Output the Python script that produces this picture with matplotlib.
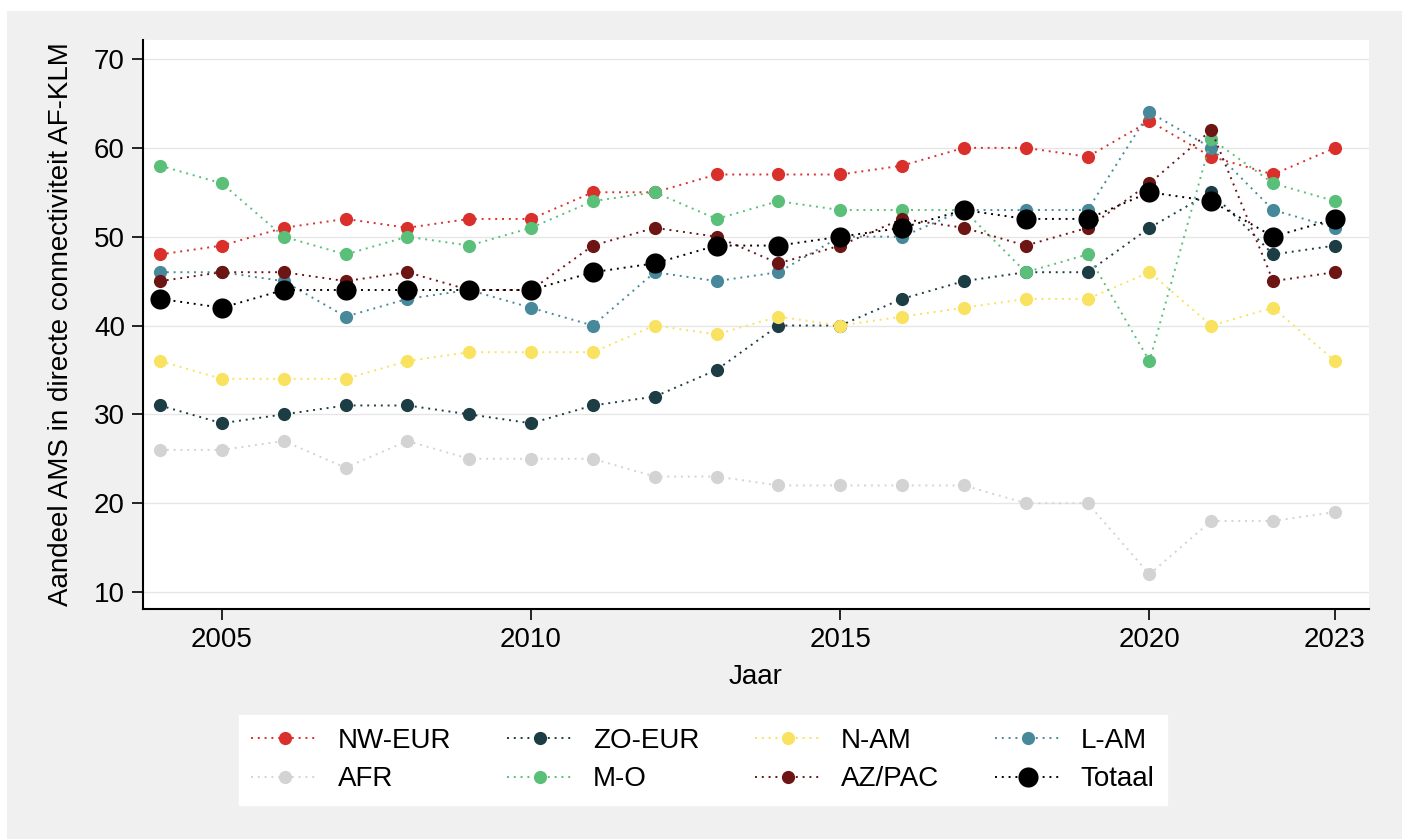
import matplotlib
matplotlib.use('Agg')
import matplotlib.pyplot as plt
from matplotlib.patches import Rectangle

plt.rcParams['font.family'] = ['Liberation Sans', 'DejaVu Sans']

jaren = list(range(2004, 2024))

nw_eur = [48, 49, 51, 52, 51, 52, 52, 55, 55, 57, 57, 57, 58, 60, 60, 59, 63, 59, 57, 60]
zo_eur = [31, 29, 30, 31, 31, 30, 29, 31, 32, 35, 40, 40, 43, 45, 46, 46, 51, 55, 48, 49]
n_am   = [36, 34, 34, 34, 36, 37, 37, 37, 40, 39, 41, 40, 41, 42, 43, 43, 46, 40, 42, 36]
l_am   = [46, 46, 45, 41, 43, 44, 42, 40, 46, 45, 46, 50, 50, 53, 53, 53, 64, 60, 53, 51]
afr    = [26, 26, 27, 24, 27, 25, 25, 25, 23, 23, 22, 22, 22, 22, 20, 20, 12, 18, 18, 19]
m_o    = [58, 56, 50, 48, 50, 49, 51, 54, 55, 52, 54, 53, 53, 53, 46, 48, 36, 61, 56, 54]
az_pac = [45, 46, 46, 45, 46, 44, 44, 49, 51, 50, 47, 49, 52, 51, 49, 51, 56, 62, 45, 46]
totaal = [43, 42, 44, 44, 44, 44, 44, 46, 47, 49, 49, 50, 51, 53, 52, 52, 55, 54, 50, 52]

namen = ['NW-EUR', 'ZO-EUR', 'N-AM', 'L-AM', 'AFR', 'M-O', 'AZ/PAC', 'Totaal']
reeksen = [nw_eur, zo_eur, n_am, l_am, afr, m_o, az_pac, totaal]
kleuren = ['#d9302b', '#1d3d44', '#f9e25f', '#47899a', '#d3d3d3', '#5abf78', '#6d1515', '#000000']

y_ticks = [10, 20, 30, 40, 50, 60, 70]
x_ticks = [2005, 2010, 2015, 2020, 2023]

fig = plt.figure(figsize=(14.02, 8.39), dpi=100, facecolor='white')
# grijze achtergrond (graph region)
fig.patches.append(Rectangle((7 / 1402, 0), 1, (839 - 11) / 839, transform=fig.transFigure,
                             facecolor='#f0f0f0', edgecolor='none', zorder=-10))

ax = fig.add_axes([143 / 1402, (839 - 609) / 839, (1369 - 143) / 1402, (609 - 40) / 839])
ax.set_facecolor('white')

handles = []
for naam, y, kl in zip(namen, reeksen, kleuren):
    ms = 14.5 if naam == 'Totaal' else 9.5
    h, = ax.plot(jaren, y, linestyle=(0, (1, 2.5)), linewidth=1.4, color=kl,
                 marker='o', markersize=ms, markeredgewidth=0, label=naam)
    handles.append(h)

ax.set_xlim(2003.725, 2023.55)
ax.set_ylim(8.09, 72.14)
ax.set_yticks(y_ticks)
ax.set_xticks(x_ticks)
ax.grid(axis='y', color='#e6e6e6', linewidth=1)
ax.set_axisbelow(True)
for s in ['top', 'right']:
    ax.spines[s].set_visible(False)
for s in ['left', 'bottom']:
    ax.spines[s].set_linewidth(1.5)
ax.tick_params(axis='both', length=8, width=1.2, labelsize=20, pad=5)

ax.set_xlabel('Jaar', fontsize=20, labelpad=8)
ax.set_ylabel('Aandeel AMS in directe connectiviteit AF-KLM', fontsize=20, labelpad=14)

# legenda rij-gewijs: matplotlib vult per kolom
volgorde = [0, 4, 1, 5, 2, 6, 3, 7]
leg = fig.legend([handles[i] for i in volgorde], [namen[i] for i in volgorde],
                 loc='center', bbox_to_anchor=(0.5014, 0.094), ncol=4, fontsize=20,
                 frameon=True, fancybox=False, handlelength=2.4, handletextpad=0.7,
                 columnspacing=2.0, labelspacing=0.45, borderpad=0.45)
leg.get_frame().set_facecolor('white')
leg.get_frame().set_edgecolor('white')
leg.get_frame().set_alpha(1)

fig.savefig('out.png', dpi=100, facecolor=fig.get_facecolor())
